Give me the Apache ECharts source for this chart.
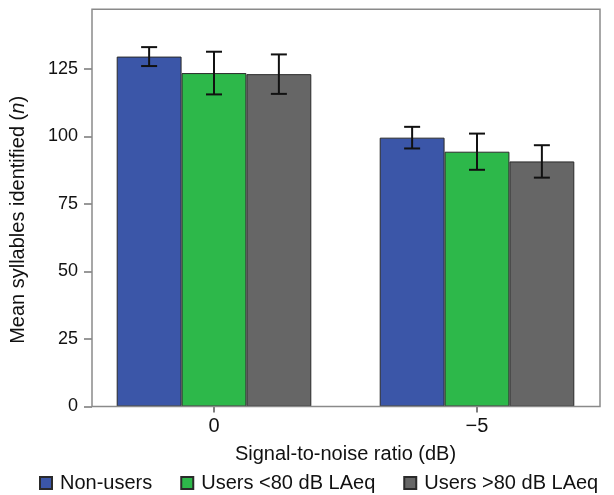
<!DOCTYPE html>
<html>
<head>
<meta charset="utf-8">
<script src="https://cdn.jsdelivr.net/npm/echarts@6/dist/echarts.min.js"></script>
<style>
html,body{margin:0;padding:0;background:#fff;}
#chart{width:614px;height:495px;}
</style>
</head>
<body>
<div id="chart"></div>
<script>
const categories = ['0', '\u22125'];
const seriesNames = ['Non-users', 'Users <80 dB LAeq', 'Users >80 dB LAeq'];
const nonUsers = [129.5, 99.5];
const usersBelow80 = [123.4, 94.3];
const usersAbove80 = [123.0, 90.7];
const nonUsersErr = [3.5, 4.0];
const usersBelow80Err = [7.9, 6.7];
const usersAbove80Err = [7.3, 6.0];
const yTicks = [0, 25, 50, 75, 100, 125];

const colors = ['#3b56a8', '#2db84a', '#666666'];
const means = [nonUsers, usersBelow80, usersAbove80];
const errs = [nonUsersErr, usersBelow80Err, usersAbove80Err];
const GAP = 0.26;

const chart = echarts.init(document.getElementById('chart'));

const barSeries = seriesNames.map((name, i) => ({
  name: name,
  type: 'bar',
  data: means[i],
  barGap: '0%',
  barCategoryGap: (GAP * 100) + '%',
  itemStyle: { color: colors[i], borderColor: '#2a2a2a', borderWidth: 1 },
  emphasis: { disabled: true },
  z: 2
}));

const errSeries = seriesNames.map((name, i) => ({
  type: 'custom',
  name: 'err' + i,
  data: means[i].map((m, k) => [k, m - errs[i][k], m + errs[i][k]]),
  z: 5,
  silent: true,
  renderItem: function (params, api) {
    const k = api.value(0);
    const lo = api.coord([k, api.value(1)]);
    const hi = api.coord([k, api.value(2)]);
    const band = api.size([1, 0])[0];
    const bw = band * (1 - GAP) / 3;
    const x = lo[0] + (i - 1) * bw;
    const cap = 8;
    const style = { stroke: '#111', lineWidth: 2 };
    return {
      type: 'group',
      children: [
        { type: 'line', shape: { x1: x, y1: lo[1], x2: x, y2: hi[1] }, style: style },
        { type: 'line', shape: { x1: x - cap, y1: lo[1], x2: x + cap, y2: lo[1] }, style: style },
        { type: 'line', shape: { x1: x - cap, y1: hi[1], x2: x + cap, y2: hi[1] }, style: style }
      ]
    };
  }
}));

chart.setOption({
  animation: false,
  textStyle: { fontFamily: 'Liberation Sans, Arial, sans-serif' },
  grid: { left: 82.5, right: 5.5, top: 9.3, bottom: 88.5 },
  graphic: [{
    type: 'rect',
    shape: { x: 92, y: 9.3, width: 508, height: 397.2 },
    style: { fill: 'none', stroke: '#8a8a8a', lineWidth: 1.5 },
    z: 10, silent: true
  }],
  legend: {
    data: seriesNames,
    left: 34,
    top: 468,
    itemWidth: 12,
    itemHeight: 12,
    itemGap: 28,
    icon: 'rect',
    selectedMode: false,
    textStyle: { fontSize: 20, color: '#111', padding: [0, 0, 0, 3] }
  },
  xAxis: {
    type: 'category',
    data: categories,
    axisLine: { show: false },
    axisTick: { show: true, alignWithLabel: true, length: 6, lineStyle: { color: '#555', width: 1.5 } },
    axisLabel: { fontSize: 20, color: '#111', margin: 10 },
    name: 'Signal-to-noise ratio (dB)',
    nameLocation: 'middle',
    nameGap: 38,
    nameTextStyle: { fontSize: 20, color: '#111' }
  },
  yAxis: {
    type: 'value',
    min: 0,
    max: 147,
    interval: 25,
    offset: -9.5,
    splitLine: { show: false },
    axisLine: { show: false },
    axisTick: { show: true, length: 8, customValues: yTicks, lineStyle: { color: '#777', width: 1.5 } },
    axisLabel: { fontSize: 18, color: '#111', margin: 14, customValues: yTicks },
    name: 'Mean syllables identified ({i|n})',
    nameLocation: 'middle',
    nameGap: 64,
    nameTextStyle: { fontSize: 20, color: '#111', padding: [0, 24, 0, 0], rich: { i: { fontSize: 20, fontStyle: 'italic', color: '#111' } } }
  },
  series: barSeries.concat(errSeries)
});
</script>
</body>
</html>
